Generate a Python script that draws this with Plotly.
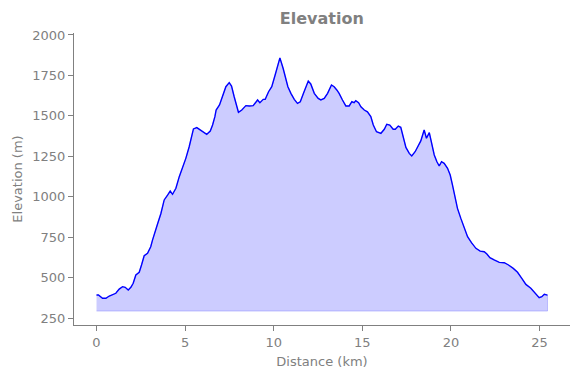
import plotly.graph_objects as go

distance_km = [0.00, 0.11, 0.34, 0.53, 0.72, 0.94, 1.09, 1.28, 1.47, 1.62, 1.79, 1.94, 2.07, 2.22, 2.41,
               2.54, 2.69, 2.88, 3.06, 3.16, 3.31, 3.44, 3.63, 3.82, 4.01, 4.16, 4.29, 4.48, 4.67,
               4.85, 5.04, 5.23, 5.38, 5.47, 5.66, 5.89, 6.08, 6.22, 6.42, 6.55, 6.68, 6.75, 6.94,
               7.11, 7.30, 7.49, 7.62, 7.77, 7.90, 8.01, 8.20, 8.43, 8.62, 8.84, 9.09, 9.22, 9.41,
               9.52, 9.71, 9.89, 10.08, 10.35, 10.53, 10.68, 10.80, 10.97, 11.16, 11.34, 11.50,
               11.68, 11.81, 11.95, 12.09, 12.29, 12.51, 12.66, 12.85, 13.04, 13.26, 13.41, 13.56,
               13.69, 13.88, 14.07, 14.26, 14.41, 14.54, 14.63, 14.79, 14.92, 15.11, 15.29, 15.48,
               15.62, 15.80, 16.05, 16.24, 16.38, 16.55, 16.74, 16.86, 17.03, 17.17, 17.31, 17.46,
               17.65, 17.79, 17.98, 18.17, 18.30, 18.49, 18.62, 18.78, 18.91, 19.06, 19.21, 19.34,
               19.47, 19.62, 19.81, 19.96, 20.09, 20.22, 20.37, 20.56, 20.75, 20.94, 21.16, 21.41,
               21.65, 21.88, 22.03, 22.20, 22.44, 22.73, 23.01, 23.25, 23.52, 23.76, 24.00, 24.23,
               24.51, 24.79, 24.98, 25.13, 25.27, 25.45]
elevation_m = [392, 392, 372, 372, 386, 398, 403, 429, 444, 440, 423, 440, 465, 516, 533,
               578, 635, 650, 691, 732, 794, 830, 895, 980, 1010, 1035, 1015, 1052, 1124,
               1176, 1237, 1309, 1381, 1419, 1427, 1412, 1398, 1386, 1406, 1443, 1495, 1536, 1567,
               1618, 1680, 1705, 1684, 1618, 1556, 1522, 1536, 1563, 1561, 1563, 1598, 1581, 1602,
               1602, 1649, 1680, 1752, 1858, 1794, 1722, 1680, 1639, 1602, 1577, 1587,
               1639, 1680, 1715, 1697, 1639, 1608, 1598, 1608, 1639, 1691, 1680, 1660,
               1639, 1598, 1561, 1561, 1587, 1581, 1594, 1581, 1556, 1536, 1525, 1495,
               1443, 1402, 1392, 1417, 1448, 1443, 1417, 1417, 1437, 1429, 1361, 1305,
               1268, 1252, 1278, 1320, 1345, 1412, 1361, 1396, 1330, 1258, 1216, 1190,
               1216, 1206, 1176, 1134, 1072, 1000, 928, 866, 805, 753, 716, 681,
               664, 660, 646, 623, 609, 594, 592, 578, 557, 533, 495, 458,
               434, 397, 376, 382, 397, 392]
fill_baseline_m = 293

x_ticks = [0, 5, 10, 15, 20, 25]
y_ticks = [250, 500, 750, 1000, 1250, 1500, 1750, 2000]

gray = "#808080"
font = "DejaVu Sans"

fig = go.Figure()
fig.add_trace(go.Scatter(
    x=distance_km + distance_km[::-1],
    y=elevation_m + [fill_baseline_m] * len(distance_km),
    fill="toself", fillcolor="rgba(0,0,255,0.2)",
    line=dict(color="rgba(0,0,255,0.2)", width=1),
    mode="lines", hoverinfo="skip", showlegend=False))
fig.add_trace(go.Scatter(
    x=distance_km, y=elevation_m, mode="lines",
    line=dict(color="#0000ff", width=1.4), showlegend=False))

axis_common = dict(showline=True, linecolor=gray, linewidth=1, ticks="outside",
                   ticklen=5, tickcolor=gray, tickfont=dict(family=font, size=13, color=gray),
                   showgrid=False, zeroline=False, automargin=False)
fig.update_layout(
    width=580, height=378,
    margin=dict(l=66, r=18, t=25, b=61),
    paper_bgcolor="white", plot_bgcolor="white",
    title=dict(text="<b>Elevation</b>", x=0.541, xanchor="center", y=0.9735, yanchor="middle",
               font=dict(family=font, size=16, color=gray)),
    xaxis=dict(range=[-1.27, 26.72], tickvals=x_ticks,
               title=dict(text="Distance (km)", font=dict(family=font, size=13, color=gray), standoff=8),
               **axis_common),
    yaxis=dict(range=[207, 2012], tickvals=y_ticks, tickformat="d",
               title=dict(text="Elevation (m)", font=dict(family=font, size=13, color=gray), standoff=6),
               **axis_common),
)
fig.write_html("out.html")
